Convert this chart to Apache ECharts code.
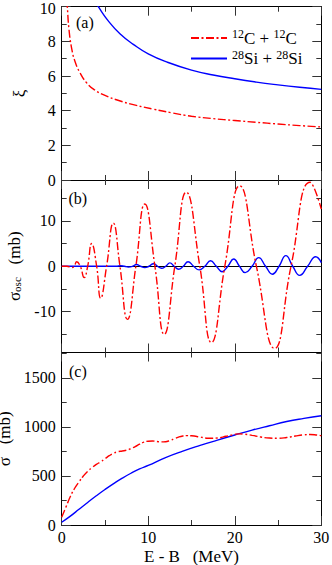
<!DOCTYPE html>
<html><head><meta charset="utf-8">
<script src="https://cdn.jsdelivr.net/npm/echarts@6/dist/echarts.min.js"></script>
<style>html,body{margin:0;padding:0;background:#fff}#chart{width:332px;height:565px}</style>
</head><body><div id="chart"></div>
<script>
// ---- data ----
const seriesNames = ['12C + 12C', '28Si + 28Si'];

// panel (a): xi vs E-B
const energyXiC = [0.6, 0.65, 0.84, 1.15, 1.5, 2.1, 2.9, 3.8, 5.0, 6.5, 8.5, 10.5, 12.7, 15, 17.5, 20, 22.5, 25, 27.5, 30];
const xiC       = [10.4, 10.0, 8.7, 7.6, 6.9, 6.2, 5.6, 5.2, 4.88, 4.6, 4.32, 4.1, 3.88, 3.68, 3.54, 3.43, 3.33, 3.23, 3.14, 3.06];
const energyXiSi = [4.0, 4.23, 5.38, 6.73, 8.27, 10, 12.3, 15, 17.5, 20, 22.5, 25, 27.5, 30];
const xiSi       = [10.2, 10.0, 9.18, 8.44, 7.83, 7.28, 6.78, 6.34, 6.06, 5.84, 5.65, 5.49, 5.35, 5.23];

// panel (b): sigma_osc vs E-B
const energyOscC = [0, 0.6, 1.15, 1.45, 1.73, 2.15, 2.6, 3.0, 3.46, 4.04, 4.5, 5.19, 5.96, 6.73, 7.6, 8.57, 9.6, 10.77, 11.85, 13.07, 14.4, 15.96, 17.3, 18.85, 20.57, 22.5, 24.6, 26.5, 28.7, 30];
const oscC       = [0, 0, -0.3, 0, 1.0, 0, -2.5, 0, 5.0, 0, -7.05, 0, 9.5, 0, -11.7, 0, 13.7, 0, -15.0, 0, 16.3, 0, -16.8, 0, 17.7, 0, -18.1, 0, 18.5, 12.6];
const energyOscSi = [0, 6.3, 6.8, 7.25, 7.7, 8.2, 8.65, 9.1, 9.6, 10.1, 10.6, 11.07, 11.54, 12.02, 12.5, 13.0, 13.5, 14.05, 14.6, 15.24, 15.88, 16.54, 17.2, 17.87, 18.53, 19.2, 19.88, 20.54, 21.2, 22.0, 22.77, 23.56, 24.35, 25.12, 25.9, 26.7, 27.5, 28.42, 29.35, 30];
const oscSi       = [0, 0, 0.1, 0, -0.15, 0, 0.4, 0, -0.3, 0, 0.55, 0, -0.45, 0, 0.75, 0, -0.65, 0, 1.0, 0, -0.8, 0, 1.2, 0, -1.2, 0, 1.6, 0, -1.4, 0, 1.9, 0, -1.75, 0, 2.35, 0, -2.0, 0, 2.1, 0.8];

// panel (c): sigma vs E-B
const energySigC = [0, 0.5, 1, 1.5, 2, 2.5, 3, 3.5, 4, 4.5, 5, 5.5, 6, 6.5, 7, 7.5, 8, 8.5, 9, 9.5, 10, 10.5, 11, 11.5, 12, 12.5, 13, 13.5, 14, 14.5, 15, 16, 17, 18, 19, 20, 20.5, 21, 22, 23, 24, 25, 26, 27, 28, 28.7, 29.5, 30];
const sigC       = [80, 185, 290, 375, 440, 500, 548, 585, 618, 645, 675, 707, 732, 748, 755, 763, 780, 800, 825, 845, 855, 857, 852, 848, 850, 862, 880, 897, 908, 912, 910, 898, 885, 888, 905, 925, 930, 928, 915, 898, 887, 885, 893, 908, 920, 923, 918, 912];
const energySigSi = [0, 1, 2, 3, 4, 5, 6, 7, 8, 9, 10, 12, 14, 16, 18, 20, 22, 24, 26, 28, 30];
const sigSi       = [28, 90, 160, 230, 298, 362, 422, 478, 528, 572, 608, 688, 754, 812, 866, 918, 968, 1013, 1056, 1088, 1115];

// tick values
const xTickMajor = [0, 10, 20, 30], xTickMinor = [5, 15, 25];
const xiTickMajor = [0, 2, 4, 6, 8, 10], xiTickMinor = [1, 3, 5, 7, 9];
const oscTickMajor = [-10, 0, 10], oscTickMinor = [-15, -5, 5, 15];
const sigTickMajor = [0, 500, 1000, 1500], sigTickMinor = [250, 750, 1250, 1750];

// ---- chart ----
const FONT = 'Liberation Serif';
const RED = '#ff0000', BLUE = '#0000ff';
const zip = (xs, ys) => xs.map((x, i) => [x, ys[i]]);

const L = 61.7, W = 259.6;
const grids = [
  {left: L, top: 6.7, width: W, height: 173.3},
  {left: L, top: 180, width: W, height: 172.5},
  {left: L, top: 352.5, width: W, height: 172.5}
].map(g => Object.assign(g, {outerBoundsMode: 'none', containLabel: false}));

const tickStyle = {color: '#333', width: 1};
const frameStyle = {color: '#000', width: 1};
const richBase = {fontFamily: FONT, color: '#000', fontWeight: 'normal', fontStyle: 'normal'};
const labelStyle = {color: '#000', fontFamily: FONT, fontSize: 16, fontWeight: 'normal',
  rich: {t: Object.assign({fontSize: 16, lineHeight: 13}, richBase),
         tt: Object.assign({fontSize: 16, lineHeight: 13, padding: [4, 0, 0, 0]}, richBase)}};
const nameStyle = {color: '#000', fontFamily: FONT, fontSize: 17, fontWeight: 'normal',
  rich: {
    m: Object.assign({fontSize: 17, lineHeight: 15}, richBase),
    sub: Object.assign({fontSize: 11, lineHeight: 6, verticalAlign: 'bottom'}, richBase)
  }};

function axisSet(kind, gi, range, major, minor, opts) {
  const posA = kind === 'x' ? 'bottom' : 'left';
  const posB = kind === 'x' ? 'top' : 'right';
  const base = {type: 'value', gridIndex: gi, min: range[0], max: range[1], splitLine: {show: false}};
  const mk = (pos, isMajor, line) => Object.assign({}, base, {
    position: pos,
    axisLine: {show: line, onZero: false, lineStyle: frameStyle},
    axisTick: {show: true, inside: true, length: isMajor ? 9 : 5, customValues: isMajor ? major : minor, lineStyle: tickStyle},
    axisLabel: {show: false}
  });
  const main = mk(posA, true, true);
  if (opts.labels) main.axisLabel = Object.assign({show: true, customValues: major, margin: opts.margin,
    // the topmost label of the top panel sits against the page edge: nudge it inward
    formatter: v => ((kind === 'y' && gi === 0 && v === range[1]) ? '{tt|' : '{t|') + String(v) + '}'}, labelStyle);
  if (opts.name) {
    main.name = opts.name;
    main.nameLocation = 'middle';
    main.nameGap = opts.nameGap;
    if (kind === 'y') main.nameRotate = 90;
    main.nameTextStyle = nameStyle;
  }
  return [main, mk(posA, false, false), mk(posB, true, true), mk(posB, false, false)];
}

const xAxes = [], yAxes = [];
const yRanges = [[0, 10], [-19, 19], [0, 1760]];
const yMaj = [xiTickMajor, oscTickMajor, sigTickMajor];
const yMin = [xiTickMinor, oscTickMinor, sigTickMinor];
const yNames = ['{m|ξ}', '{m|σ}{sub|osc}{m|\u00a0\u00a0\u00a0(mb)}', '{m|σ}{m|\u00a0\u00a0\u00a0}{m|(mb)}'];
const yGaps = [35, 34, 33];
for (let g = 0; g < 3; g++) {
  xAxes.push(...axisSet('x', g, [0, 30], xTickMajor, xTickMinor,
    g === 2 ? {labels: true, margin: 6, name: '{m|E\u00a0-\u00a0B\u00a0\u00a0\u00a0(MeV)}', nameGap: 24} : {}));
  yAxes.push(...axisSet('y', g, yRanges[g], yMaj[g], yMin[g], {labels: true, margin: 6, name: yNames[g], nameGap: yGaps[g]}));
}
// zero line of panel (b), drawn by an x axis placed on y = 0
xAxes.push({type: 'value', gridIndex: 1, min: 0, max: 30, position: 'bottom',
  axisLine: {show: true, onZero: true, onZeroAxisIndex: 4, lineStyle: {color: '#000', width: 1}},
  axisTick: {show: false}, axisLabel: {show: false}, splitLine: {show: false}});

const dash = [8, 2.5, 2, 2.5];
function line(name, g, data, color, dashed) {
  return {type: 'line', name, xAxisIndex: g * 4, yAxisIndex: g * 4, data, smooth: true,
    symbol: 'none', clip: true, z: dashed ? 4 : 3,
    lineStyle: {color, width: 1.4, type: dashed ? dash : 'solid'}, itemStyle: {color}};
}

const series = [
  line(seriesNames[0], 0, zip(energyXiC, xiC), RED, true),
  line(seriesNames[1], 0, zip(energyXiSi, xiSi), BLUE, false),
  line(seriesNames[0], 1, zip(energyOscC, oscC), RED, true),
  line(seriesNames[1], 1, zip(energyOscSi, oscSi), BLUE, false),
  line(seriesNames[0], 2, zip(energySigC, sigC), RED, true),
  line(seriesNames[1], 2, zip(energySigSi, sigSi), BLUE, false)
];

const legendFmt = name => name.split(' + ').map(p => {
  const m = p.match(/^(\d+)(\D+)$/);
  return '{sup|' + m[1] + '}{m|' + m[2] + '}';
}).join('{m|\u00a0+\u00a0}');

const panelLabel = (text, x, y) => ({type: 'text', left: x, top: y,
  style: {text, fill: '#000', font: '16px ' + FONT, textVerticalAlign: 'middle'}});

const chart = echarts.init(document.getElementById('chart'), null, {renderer: 'svg', width: 332, height: 565});
chart.setOption({
  animation: false,
  backgroundColor: '#fff',
  textStyle: {fontFamily: FONT, color: '#000', fontWeight: 'normal'},
  grid: grids,
  xAxis: xAxes,
  yAxis: yAxes,
  series,
  legend: {
    data: seriesNames, orient: 'vertical', left: 185, top: 23, itemWidth: 36, itemHeight: 14, itemGap: 2,
    selectedMode: false, formatter: legendFmt,
    itemStyle: {opacity: 0, borderWidth: 0},
    textStyle: {color: '#000', fontFamily: FONT, fontSize: 17,
      rich: {m: Object.assign({fontSize: 17, lineHeight: 20}, richBase),
             sup: Object.assign({fontSize: 12, lineHeight: 10, verticalAlign: 'top'}, richBase)}}
  },
  graphic: [panelLabel('(a)', 76, 14), panelLabel('(b)', 68.5, 190), panelLabel('(c)', 69, 363)]
});
</script></body></html>
